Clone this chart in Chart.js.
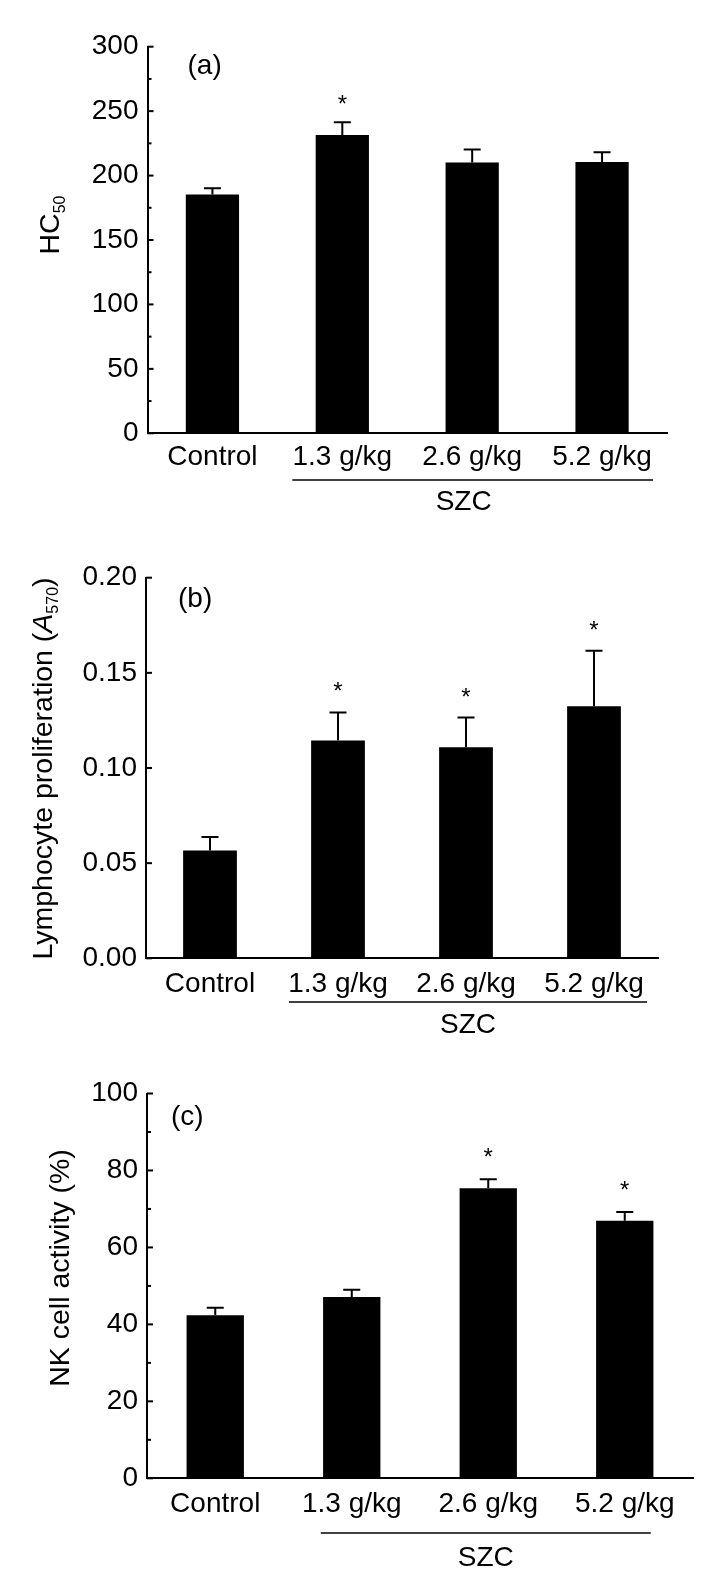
<!DOCTYPE html>
<html>
<head>
<meta charset="utf-8">
<script src="https://cdn.jsdelivr.net/npm/chart.js@4"></script>
<style>
  html, body { margin: 0; padding: 0; background: #fff; }
  #wrap { position: relative; width: 723px; height: 1596px; }
  canvas { position: absolute; left: 0; }
</style>
</head>
<body>
<div id="wrap">
  <canvas id="chartA" width="723" height="540" style="top:0"></canvas>
  <canvas id="chartB" width="723" height="520" style="top:540px"></canvas>
  <canvas id="chartC" width="723" height="536" style="top:1060px"></canvas>
</div>
<script>
// ── Dados
const GROUPS = ['Control', '1.3 g/kg', '2.6 g/kg', '5.2 g/kg'];

// (a) HC50
const hcMean = [185.4, 231.4, 210.1, 210.6];
const hcSd   = [4.7, 9.9, 10.1, 7.5];
const hcStar = [false, true, false, false];

// (b) proliferação de linfócitos (A570)
const lpMean = [0.0567, 0.1145, 0.1109, 0.1325];
const lpSd   = [0.0070, 0.0147, 0.0156, 0.0291];
const lpStar = [false, true, true, true];

// (c) atividade NK (%)
const nkMean = [42.4, 47.1, 75.4, 66.9];
const nkSd   = [1.9, 1.9, 2.3, 2.3];
const nkStar = [false, false, true, true];

const FONT = "'Liberation Sans', Arial, sans-serif";
Chart.defaults.font.family = FONT;
Chart.defaults.color = '#000';

// ── Plugin: barras de erro, asteriscos, ticks internos, títulos e chave "SZC"
const extras = {
  id: 'extras',
  afterDatasetsDraw(chart, args, o) {
    const { ctx, chartArea: ca, scales: { x, y } } = chart;
    ctx.save();
    ctx.strokeStyle = '#000';
    ctx.fillStyle = '#000';

    // barras de erro (só a parte de cima)
    ctx.lineWidth = 2;
    o.mean.forEach((m, i) => {
      const cx = x.getPixelForValue(i);
      const y0 = y.getPixelForValue(m);
      const y1 = y.getPixelForValue(m + o.sd[i]);
      ctx.beginPath();
      ctx.moveTo(cx, y0); ctx.lineTo(cx, y1);
      ctx.moveTo(cx - 8.5, y1); ctx.lineTo(cx + 8.5, y1);
      ctx.stroke();
      if (o.star[i]) {
        ctx.font = '24px ' + FONT;
        ctx.textAlign = 'center';
        ctx.textBaseline = 'alphabetic';
        ctx.fillText('*', cx, y1 - o.starGap + 12);
      }
    });

    // ticks do eixo y, para dentro
    const n = Math.round((o.max - o.min) / o.minor);
    const per = Math.round(o.step / o.minor);
    ctx.lineWidth = 2;
    for (let k = 0; k <= n; k++) {
      const py = y.getPixelForValue(o.min + k * o.minor);
      const len = k % per === 0 ? 6 : 4;
      ctx.beginPath();
      ctx.moveTo(ca.left, py); ctx.lineTo(ca.left + len, py);
      ctx.stroke();
    }
    ctx.restore();
  },
  afterDraw(chart, args, o) {
    const { ctx, chartArea: ca, scales: { x, y } } = chart;
    ctx.save();
    ctx.fillStyle = '#000';
    ctx.strokeStyle = '#000';

    // rótulo do painel
    ctx.font = '28px ' + FONT;
    ctx.textAlign = 'left';
    ctx.textBaseline = 'middle';
    ctx.fillText(o.panel, ca.left + o.panelDx, ca.top + o.panelDy);

    // chave SZC sob as doses
    const x1 = x.getPixelForValue(1) - o.brExt[0];
    const x2 = x.getPixelForValue(3) + o.brExt[1];
    const by = ca.bottom + o.brGap;
    ctx.lineWidth = 1.5;
    ctx.beginPath(); ctx.moveTo(x1, by); ctx.lineTo(x2, by); ctx.stroke();
    ctx.textAlign = 'center';
    ctx.fillText('SZC', (x1 + x2) / 2 + o.szcDx, ca.bottom + o.szcGap);

    // título do eixo y, com subscrito / itálico
    const fontOf = p => (p.italic ? 'italic ' : '') + (p.sub ? 16 : 28.5) + 'px ' + FONT;
    let total = 0;
    o.title.forEach(p => { ctx.font = fontOf(p); p.w = ctx.measureText(p.t).width; total += p.w; });
    ctx.translate(o.titleX, o.titleY);
    ctx.rotate(-Math.PI / 2);
    ctx.textAlign = 'left';
    ctx.textBaseline = 'alphabetic';
    let cx = -total / 2;
    o.title.forEach(p => {
      ctx.font = fontOf(p);
      ctx.fillText(p.t, cx, p.sub ? 6 : 0);
      cx += p.w;
    });
    ctx.restore();
  }
};

function makeChart(id, geo, mean, opts) {
  const el = document.getElementById(id);
  return new Chart(el, {
    type: 'bar',
    data: {
      labels: GROUPS,
      datasets: [{ data: mean, backgroundColor: '#000', borderWidth: 0,
                   barPercentage: geo.barPct, categoryPercentage: 1 }]
    },
    options: {
      responsive: false,
      animation: false,
      devicePixelRatio: 1,
      layout: { padding: { left: 0, right: 723 - geo.right, top: geo.top, bottom: 0 } },
      plugins: {
        legend: { display: false },
        tooltip: { enabled: false },
        extras: Object.assign({ mean }, opts)
      },
      scales: {
        x: {
          grid: { display: false, drawTicks: false },
          border: { display: true, color: '#000', width: 2 },
          ticks: { color: '#000', font: { size: 28 }, padding: geo.lblPad, maxRotation: 0, autoSkip: false },
          afterFit: s => { s.height = el.height - geo.bottom; }
        },
        y: {
          min: opts.min, max: opts.max,
          grid: { display: false, drawTicks: false },
          border: { display: true, color: '#000', width: 2 },
          ticks: { color: '#000', font: { size: 28 }, padding: 9, stepSize: opts.step,
                   callback: v => v.toFixed(opts.dec) },
          afterFit: s => { s.width = geo.left; }
        }
      }
    },
    plugins: [extras]
  });
}

makeChart('chartA',
  { left: 147.5, right: 667, top: 46.7, bottom: 433.3, barPct: 0.41, lblPad: 7 },
  hcMean,
  { sd: hcSd, star: hcStar, starGap: 22, min: 0, max: 300, step: 50, minor: 25, dec: 0,
    panel: '(a)', panelDx: 40, panelDy: 20, brExt: [50, 51], brGap: 46.7, szcGap: 69, szcDx: -9,
    titleX: 59, titleY: 225, title: [{ t: 'HC' }, { t: '50', sub: true }] });

makeChart('chartB',
  { left: 146, right: 658, top: 37.7, bottom: 418.3, barPct: 0.42, lblPad: 9 },
  lpMean,
  { sd: lpSd, star: lpStar, starGap: 25, min: 0, max: 0.2, step: 0.05, minor: 0.05, dec: 2,
    panel: '(b)', panelDx: 32, panelDy: 22, brExt: [49, 53], brGap: 43.7, szcGap: 67, szcDx: 0,
    titleX: 52, titleY: 228.5,
    title: [{ t: 'Lymphocyte proliferation (' }, { t: 'A', italic: true }, { t: '570', sub: true }, { t: ')' }] });

makeChart('chartC',
  { left: 147, right: 693, top: 33.5, bottom: 418.3, barPct: 0.42, lblPad: 9 },
  nkMean,
  { sd: nkSd, star: nkStar, starGap: 26, min: 0, max: 100, step: 20, minor: 10, dec: 0,
    panel: '(c)', panelDx: 24, panelDy: 23.5, brExt: [31, 26], brGap: 54.7, szcGap: 80, szcDx: 0,
    titleX: 69, titleY: 208, title: [{ t: 'NK cell activity (%)' }] });
</script>
</body>
</html>
